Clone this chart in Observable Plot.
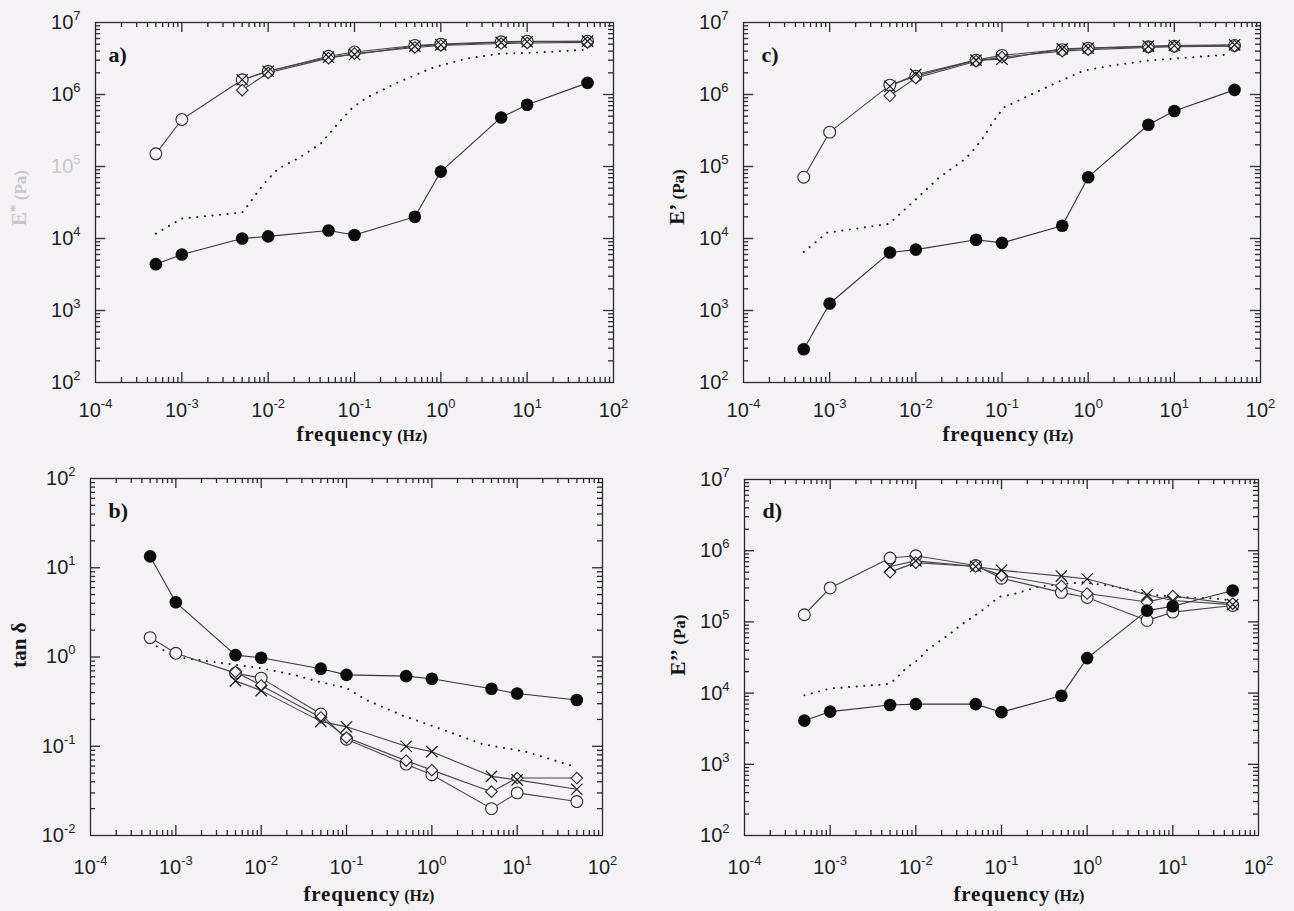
<!DOCTYPE html>
<html><head><meta charset="utf-8">
<script src="https://cdn.jsdelivr.net/npm/d3@7"></script>
<script src="https://cdn.jsdelivr.net/npm/@observablehq/plot@0.6"></script>
<style>
html,body{margin:0;padding:0;background:#f4f2f5;}
#root{position:relative;width:1294px;height:911px;overflow:hidden;background:#f4f2f5;}
.panel{position:absolute;}
</style></head><body><div id="root"></div>
<script>
// ---------- shared categories / ticks ----------
const freq = [5e-4, 1e-3, 5e-3, 1e-2, 5e-2, 0.1, 0.5, 1, 5, 10, 50];
const freqLate = [5e-3, 1e-2, 5e-2, 0.1, 0.5, 1, 5, 10, 50];
const xExponents = [-4, -3, -2, -1, 0, 1, 2];
const modulusExponents = [2, 3, 4, 5, 6, 7];
const tanExponents = [-2, -1, 0, 1, 2];

// ---------- panel a : E* ----------
const aFilled  = [4.4e3, 6.0e3, 1.0e4, 1.07e4, 1.29e4, 1.12e4, 2.0e4, 8.5e4, 4.8e5, 7.2e5, 1.45e6];
const aCircle  = [1.5e5, 4.5e5, 1.6e6, 2.1e6, 3.4e6, 3.9e6, 4.8e6, 5.0e6, 5.4e6, 5.5e6, 5.5e6];
const aDiamond = [1.15e6, 2.0e6, 3.2e6, 3.7e6, 4.5e6, 4.8e6, 5.1e6, 5.2e6, 5.3e6];
const aCross   = [1.6e6, 2.1e6, 3.3e6, 3.6e6, 4.7e6, 4.9e6, 5.3e6, 5.4e6, 5.5e6];
const aDotFreq = [5e-4, 1e-3, 5e-3, 5.9e-3, 8.9e-3, 1.3e-2, 2.3e-2, 4.1e-2, 6.5e-2, 9.5e-2, 0.14, 0.32, 0.82, 2.0, 4.9, 11.7, 45];
const aDotVal  = [1.17e4, 1.9e4, 2.3e4, 2.95e4, 5.75e4, 9.3e4, 1.33e5, 2.1e5, 4.0e5, 6.6e5, 9.1e5, 1.48e6, 2.37e6, 3.16e6, 3.7e6, 3.8e6, 4.17e6];

// ---------- panel c : E' ----------
const cFilled  = [2.9e2, 1.25e3, 6.4e3, 7.0e3, 9.6e3, 8.7e3, 1.5e4, 7.1e4, 3.8e5, 5.9e5, 1.16e6];
const cCircle  = [7.1e4, 3.0e5, 1.35e6, 1.8e6, 3.0e6, 3.5e6, 4.2e6, 4.4e6, 4.6e6, 4.7e6, 4.8e6];
const cDiamond = [9.6e5, 1.7e6, 2.9e6, 3.3e6, 4.0e6, 4.2e6, 4.5e6, 4.6e6, 4.7e6];
const cCross   = [1.3e6, 1.9e6, 3.0e6, 3.1e6, 4.3e6, 4.4e6, 4.7e6, 4.8e6, 4.9e6];
const cDotFreq = [5e-4, 9.3e-4, 4.9e-3, 7.9e-3, 1e-2, 1.4e-2, 1.8e-2, 2.75e-2, 3.5e-2, 4.3e-2, 5.9e-2, 7.9e-2, 0.105, 0.135, 0.245, 0.48, 0.89, 1.8, 4.8, 16.6, 45];
const cDotVal  = [6.5e3, 1.2e4, 1.6e4, 2.7e4, 3.5e4, 5.1e4, 6.8e4, 9.8e4, 1.2e5, 1.5e5, 2.4e5, 4.2e5, 6.6e5, 7.6e5, 1.07e6, 1.55e6, 2.14e6, 2.5e6, 2.95e6, 3.3e6, 3.6e6];

// ---------- panel b : tan delta ----------
const bFilled  = [13.4, 4.1, 1.05, 0.98, 0.74, 0.63, 0.61, 0.57, 0.44, 0.39, 0.33];
const bCircle  = [1.65, 1.1, 0.66, 0.58, 0.23, 0.12, 0.063, 0.048, 0.020, 0.030, 0.024];
const bDiamond = [0.68, 0.48, 0.21, 0.125, 0.069, 0.054, 0.031, 0.044, 0.044];
const bCross   = [0.54, 0.42, 0.19, 0.165, 0.10, 0.087, 0.046, 0.042, 0.033];
const bDotFreq = [5e-4, 1e-3, 4.8e-3, 1e-2, 2.6e-2, 5e-2, 0.1, 0.17, 0.46, 1.3, 4.0, 12.6, 50];
const bDotVal  = [1.45, 1.0, 0.82, 0.75, 0.62, 0.52, 0.45, 0.33, 0.22, 0.155, 0.105, 0.087, 0.058];

// ---------- panel d : E'' ----------
const dFilled  = [4.1e3, 5.5e3, 6.8e3, 7.0e3, 7.0e3, 5.4e3, 9.2e3, 3.1e4, 1.44e5, 1.66e5, 2.76e5];
const dCircle  = [1.26e5, 3.0e5, 7.9e5, 8.5e5, 6.2e5, 4.1e5, 2.6e5, 2.2e5, 1.05e5, 1.37e5, 1.7e5];
const dDiamond = [5.0e5, 6.8e5, 6.0e5, 4.5e5, 3.2e5, 2.5e5, 1.9e5, 2.3e5, 1.8e5];
const dCross   = [6.0e5, 7.2e5, 6.0e5, 5.3e5, 4.4e5, 4.0e5, 2.4e5, 2.0e5, 1.75e5];
const dDotFreq = [5e-4, 1e-3, 5e-3, 6.05e-3, 7.9e-3, 1.05e-2, 1.35e-2, 1.7e-2, 2.66e-2, 3.3e-2, 5.96e-2, 7.4e-2, 9.3e-2, 0.138, 0.263, 0.49, 0.91, 2.04, 5.0, 11.2, 29.5, 51];
const dDotVal  = [9.3e3, 1.16e4, 1.35e4, 1.66e4, 2.3e4, 2.9e4, 4.0e4, 4.9e4, 7.2e4, 8.9e4, 1.45e5, 1.78e5, 2.24e5, 2.45e5, 3.1e5, 3.4e5, 3.6e5, 3.16e5, 2.45e5, 2.24e5, 2.14e5, 2.0e5];

// ---------- texts ----------
const panelLetters = {a: "a)", b: "b)", c: "c)", d: "d)"};
const xTitleWord = "frequency";
const xTitleUnit = " (Hz)";

// ---------- helpers ----------
const BG = "#f4f2f5";
const AX = "#2a2a2a";
const SERIF = "'Liberation Serif', 'Times New Roman', serif";
const SANS = "'Liberation Sans', Arial, Helvetica, sans-serif";
const majors = (exps) => exps.map(e => Math.pow(10, e));
function minors(e0, e1) {
  const t = [];
  for (let e = e0; e < e1; e++) for (let k = 2; k <= 9; k++) t.push(k * Math.pow(10, e));
  return t;
}
const rows = (fs, vs) => fs.map((f, i) => ({f, v: vs[i]}));
const fmtPow = d => `10^${Math.round(Math.log10(d))}`;

function makePanel(cfg) {
  const yExp = cfg.yExps;
  const xMaj = majors(xExponents), xMin = minors(xExponents[0], xExponents[xExponents.length - 1]);
  const yMaj = majors(yExp), yMin = minors(yExp[0], yExp[yExp.length - 1]);
  const xInner = xMaj.slice(1, -1), yInner = yMaj.slice(1, -1);
  const fw = cfg.W - cfg.mL - cfg.mR, fh = cfg.H - cfg.mT - cfg.mB;
  const lineStyle = {x: "f", y: "v", stroke: "#454545", strokeWidth: 1.1};
  const openStyle = {x: "f", y: "v", fill: BG, stroke: "#2a2a2a", strokeWidth: 1.1};
  const MJ = 10, MN = 5;
  const tk = {stroke: AX, strokeWidth: 1.3};
  const plot = Plot.plot({
    width: cfg.W, height: cfg.H,
    marginLeft: cfg.mL, marginTop: cfg.mT, marginRight: cfg.mR, marginBottom: cfg.mB,
    style: {background: "transparent", fontFamily: SANS, color: "#1e1e1e", overflow: "visible"},
    x: {type: "log", domain: [xMaj[0], xMaj[xMaj.length - 1]], label: null},
    y: {type: "log", domain: [yMaj[0], yMaj[yMaj.length - 1]], label: null},
    marks: [
      Plot.axisX({anchor: "bottom", ticks: xMaj, tickSize: 0, tickPadding: cfg.xPad, tickFormat: fmtPow, label: null, fontSize: 20, fill: "#1e1e1e"}),
      Plot.axisY({anchor: "left", ticks: yMaj, tickSize: 0, tickPadding: 15, tickFormat: fmtPow, label: null, fontSize: 20, fill: "#1e1e1e"}),
      // inward ticks on all four sides (rules inset to a short length)
      Plot.ruleX(xInner, {x: d => d, insetTop: fh - MJ, ...tk}),
      Plot.ruleX(xMin, {x: d => d, insetTop: fh - MN, ...tk}),
      Plot.ruleX(xInner, {x: d => d, insetBottom: fh - MJ, ...tk}),
      Plot.ruleX(xMin, {x: d => d, insetBottom: fh - MN, ...tk}),
      Plot.ruleY(yInner, {y: d => d, insetRight: fw - MJ, ...tk}),
      Plot.ruleY(yMin, {y: d => d, insetRight: fw - MN, ...tk}),
      Plot.ruleY(yInner, {y: d => d, insetLeft: fw - MJ, ...tk}),
      Plot.ruleY(yMin, {y: d => d, insetLeft: fw - MN, ...tk}),
      Plot.frame({stroke: AX, strokeWidth: 1.3}),
      Plot.line(rows(cfg.dotF, cfg.dotV), {x: "f", y: "v", stroke: "#1a1a1a", strokeWidth: 2, strokeDasharray: "0.1 7.5", strokeLinecap: "round"}),
      Plot.line(rows(freq, cfg.filled), {...lineStyle, stroke: "#333"}),
      Plot.line(rows(freq, cfg.circle), lineStyle),
      Plot.line(rows(freqLate, cfg.diamond), lineStyle),
      Plot.line(rows(freqLate, cfg.cross), lineStyle),
      Plot.dot(rows(freq, cfg.circle), {...openStyle, symbol: "circle", r: 5.9}),
      Plot.dot(rows(freqLate, cfg.diamond), {...openStyle, symbol: "diamond2", r: 5.2}),
      Plot.dot(rows(freqLate, cfg.cross), {x: "f", y: "v", symbol: "times", r: 5.2, stroke: "#1a1a1a", strokeWidth: 1.2}),
      Plot.dot(rows(freq, cfg.filled), {x: "f", y: "v", symbol: "circle", r: 6.3, fill: "#0c0c0c", stroke: "none"}),
      Plot.text([cfg.letter], {text: d => d, frameAnchor: "top-left", dx: cfg.letterDx, dy: cfg.letterDy, lineAnchor: "bottom", textAnchor: "start", fontFamily: SERIF, fontWeight: "bold", fontSize: 22, fill: "#151515"})
    ]
  });
  const svg = d3.select(plot);
  // superscript exponents for tick labels
  svg.selectAll("text").each(function () {
    const m = /^10\^(-?\d+)$/.exec(this.textContent);
    if (!m) return;
    const s = d3.select(this);
    s.text("10");
    s.append("tspan").attr("dy", -9).attr("font-size", 13).text(m[1]);
    if (cfg.fadeLabel && m[1] === cfg.fadeLabel) s.attr("fill", "#cac8cb");
  });
  // x title
  const xt = svg.append("text").attr("x", cfg.xTitleX).attr("y", cfg.xTitleY)
    .attr("text-anchor", "middle").attr("font-family", SERIF).attr("font-weight", "bold").attr("fill", "#151515");
  xt.append("tspan").attr("font-size", 21).attr("letter-spacing", 0.8).text(xTitleWord);
  xt.append("tspan").attr("font-size", 16).text(xTitleUnit);
  // y title (rotated)
  const yt = svg.append("text").attr("transform", `translate(${cfg.yTitleX},${cfg.yTitleY}) rotate(-90)`)
    .attr("text-anchor", "middle").attr("font-family", SERIF).attr("font-weight", "bold").attr("fill", cfg.yTitleColor || "#151515");
  cfg.yTitle(yt);
  const wrap = document.createElement("div");
  wrap.className = "panel";
  wrap.style.left = cfg.left + "px";
  wrap.style.top = cfg.top + "px";
  wrap.appendChild(plot);
  document.getElementById("root").appendChild(wrap);
}

makePanel({
  left: 0, top: 0, W: 647, H: 455, mL: 95, mT: 22, mR: 34, mB: 73, yExps: modulusExponents,
  filled: aFilled, circle: aCircle, diamond: aDiamond, cross: aCross, dotF: aDotFreq, dotV: aDotVal,
  letter: panelLetters.a, letterDx: 13, letterDy: 39, xPad: 20, xTitleX: 362, xTitleY: 441,
  yTitleX: 26, yTitleY: 198, yTitleColor: "#c9c7ca", fadeLabel: "5",
  yTitle: t => { t.append("tspan").attr("font-size", 21).text("E"); t.append("tspan").attr("font-size", 15).attr("dy", -6).text("*"); t.append("tspan").attr("font-size", 17).attr("dy", 6).text(" (Pa)"); }
});
makePanel({
  left: 647, top: 0, W: 647, H: 455, mL: 96, mT: 22, mR: 34, mB: 73, yExps: modulusExponents,
  filled: cFilled, circle: cCircle, diamond: cDiamond, cross: cCross, dotF: cDotFreq, dotV: cDotVal,
  letter: panelLetters.c, letterDx: 18, letterDy: 39, xPad: 20, xTitleX: 361, xTitleY: 441,
  yTitleX: 37, yTitleY: 197,
  yTitle: t => { t.append("tspan").attr("font-size", 21).text("E’"); t.append("tspan").attr("font-size", 17).text(" (Pa)"); }
});
makePanel({
  left: 0, top: 455, W: 647, H: 456, mL: 90, mT: 23, mR: 45, mB: 76, yExps: tanExponents,
  filled: bFilled, circle: bCircle, diamond: bDiamond, cross: bCross, dotF: bDotFreq, dotV: bDotVal,
  letter: panelLetters.b, letterDx: 18, letterDy: 39, xPad: 24, xTitleX: 369, xTitleY: 446,
  yTitleX: 26, yTitleY: 190,
  yTitle: t => { t.append("tspan").attr("font-size", 21).text("tan δ"); }
});
makePanel({
  left: 647, top: 455, W: 647, H: 456, mL: 97, mT: 24, mR: 36, mB: 76, yExps: modulusExponents,
  filled: dFilled, circle: dCircle, diamond: dDiamond, cross: dCross, dotF: dDotFreq, dotV: dDotVal,
  letter: panelLetters.d, letterDx: 18, letterDy: 38, xPad: 24, xTitleX: 372, xTitleY: 446,
  yTitleX: 38, yTitleY: 190,
  yTitle: t => { t.append("tspan").attr("font-size", 21).text("E’’"); t.append("tspan").attr("font-size", 17).text(" (Pa)"); }
});
</script>
</body></html>
